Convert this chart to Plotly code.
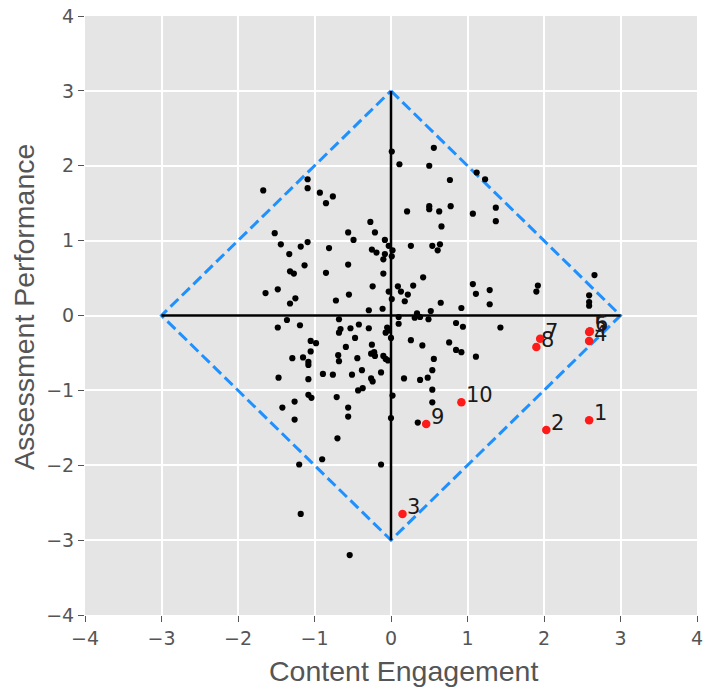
import plotly.graph_objects as go

# Black points (Content Engagement, Assessment Performance)
black_x = [
    -1.67, -1.09, -1.09, -0.93, -0.76, -0.85, -0.27, -1.52, -0.56, -0.21, -0.49, -0.08,
    -1.44, -1.09, -1.18, -0.81, -0.03, -0.25, -0.19, 0.02, -0.08, 0.01, -1.33, -0.10,
    -1.13, -0.56, -1.32, -1.27, -0.85, -0.10, -0.24, -1.64, -1.48, -0.55, -0.03, -1.25,
    -1.32, -0.72, 0.01, -0.29, -0.11, -0.68, -1.36,
    0.01, 0.56, 0.11, 0.50, 1.12, 1.23, 0.77, 0.21, 0.50, 0.50, 0.63, 0.78, 1.07, 1.37,
    1.37, 0.66, 0.26, 0.54, 0.64, 0.61, 0.42, 0.09, 0.29, 0.13, 0.22, 0.18, 0.65, 0.92,
    0.52, 1.07, 1.11, 1.29, 1.29, 1.92, 1.90, 2.66, 2.59, 2.59, 2.59, 0.34, 0.10,
    -1.48, -1.19, -0.66, -0.68, -0.53, -0.42, -0.29, -0.05, -0.03, -0.07, -0.47, -1.05,
    -0.98, -0.59, -0.25, -1.05, -0.69, -0.26, -0.22, -0.21, -1.29, -1.15, -1.08, -1.08,
    -0.68, -0.44, -0.10, -0.07, -0.04, -0.38, -0.13, -0.89, -0.76, -0.51, -1.47, -1.08,
    -0.26, -0.24, -0.37, -0.43, -1.08, -1.04, -0.71, -1.26, -1.42, -0.56, -0.56, -1.26,
    -0.70, -0.90, -1.20, -0.13, -1.18, -0.54,
    0.31, 0.38, 0.49, 0.10, 0.85, 0.94, 1.43, 0.00, 0.26, 0.41, 0.76, 0.85, 0.92, 1.11,
    0.56, 0.54, 0.17, 0.38, 0.48, 0.54, 0.02, 0.54, 0.00, 0.35,
]
black_y = [
    1.67, 1.82, 1.70, 1.64, 1.59, 1.50, 1.25, 1.10, 1.11, 1.11, 1.01, 1.01,
    0.95, 0.98, 0.92, 0.90, 0.93, 0.88, 0.84, 0.87, 0.82, 0.79, 0.82, 0.75,
    0.67, 0.68, 0.59, 0.56, 0.57, 0.56, 0.39, 0.30, 0.35, 0.28, 0.32, 0.23,
    0.16, 0.20, 0.22, 0.07, 0.09, -0.05, -0.06,
    2.19, 2.24, 2.02, 2.00, 1.91, 1.82, 1.81, 1.39, 1.46, 1.42, 1.39, 1.46, 1.36, 1.44,
    1.26, 1.19, 0.93, 0.93, 0.95, 0.87, 0.51, 0.39, 0.40, 0.32, 0.28, 0.19, 0.17, 0.10,
    0.06, 0.42, 0.29, 0.34, 0.15, 0.40, 0.32, 0.54, 0.27, 0.18, 0.13, 0.03, -0.02,
    -0.16, -0.13, -0.18, -0.23, -0.17, -0.12, -0.17, -0.16, -0.20, -0.23, -0.30, -0.34,
    -0.37, -0.42, -0.39, -0.48, -0.53, -0.51, -0.49, -0.54, -0.57, -0.56, -0.62, -0.66,
    -0.61, -0.57, -0.54, -0.58, -0.60, -0.73, -0.76, -0.78, -0.79, -0.79, -0.83, -0.85,
    -0.84, -0.88, -0.97, -1.00, -1.06, -1.10, -1.09, -1.15, -1.23, -1.23, -1.35, -1.39,
    -1.64, -1.92, -1.99, -1.99, -2.65, -3.20,
    -0.03, -0.02, -0.05, -0.11, -0.10, -0.15, -0.16, -0.30, -0.33, -0.40, -0.36, -0.46, -0.49, -0.55,
    -0.58, -0.73, -0.84, -0.86, -0.83, -0.99, -1.07, -1.16, -1.37, -1.43,
]

# Highlighted (red) points with labels
red_labels = ["1", "2", "3", "4", "5", "6", "7", "8", "9", "10"]
red_x = [2.59, 2.03, 0.15, 2.59, 2.59, 2.60, 1.95, 1.90, 0.46, 0.92]
red_y = [-1.40, -1.53, -2.65, -0.34, -0.22, -0.21, -0.31, -0.42, -1.45, -1.16]

# Diamond boundary and cross lines
diamond_x = [0, 3, 0, -3, 0]
diamond_y = [3, 0, -3, 0, 3]
hline_x, hline_y = [-3, 3], [0, 0]
vline_x, vline_y = [0, 0], [-3, 3]

tick_vals = [-4, -3, -2, -1, 0, 1, 2, 3, 4]
tick_text = ["\u22124", "\u22123", "\u22122", "\u22121", "0", "1", "2", "3", "4"]

x_title = "Content Engagement"
y_title = "Assessment Performance"

fig = go.Figure()
fig.add_trace(go.Scatter(x=diamond_x, y=diamond_y, mode="lines",
                         line=dict(color="#1E90FF", width=3, dash="11px,5px"),
                         hoverinfo="skip"))
fig.add_trace(go.Scatter(x=hline_x, y=hline_y, mode="lines",
                         line=dict(color="black", width=2.5), hoverinfo="skip"))
fig.add_trace(go.Scatter(x=vline_x, y=vline_y, mode="lines",
                         line=dict(color="black", width=2.5), hoverinfo="skip"))
fig.add_trace(go.Scatter(x=black_x, y=black_y, mode="markers",
                         marker=dict(color="black", size=6.2)))
fig.add_trace(go.Scatter(x=red_x, y=red_y, mode="markers",
                         marker=dict(color="#FF1A1A", size=8.5)))

for lx, ly, lt in zip(red_x, red_y, red_labels):
    fig.add_annotation(x=lx, y=ly, text=lt, showarrow=False,
                       xanchor="left", yanchor="bottom", xshift=3, yshift=-7,
                       font=dict(family="DejaVu Sans", size=21, color="#1a1a1a"))

# Axis titles as annotations (positioned as in the reference)
fig.add_annotation(xref="paper", yref="paper", x=0.521, y=-0.094, text=x_title,
                   showarrow=False, xanchor="center", yanchor="middle",
                   font=dict(family="Liberation Sans", size=28.5, color="#555555"))
fig.add_annotation(xref="paper", yref="paper", x=-0.1, y=0.514, text=y_title,
                   showarrow=False, xanchor="center", yanchor="middle", textangle=-90,
                   font=dict(family="Liberation Sans", size=28.5, color="#555555"))

axis_common = dict(range=[-4, 4], tickvals=tick_vals, ticktext=tick_text,
                   showgrid=True, gridcolor="white", gridwidth=1.5,
                   zeroline=False, ticks="outside", ticklen=6, tickwidth=1.2,
                   tickcolor="#555555", showline=False, automargin=False,
                   tickfont=dict(family="DejaVu Sans", size=19, color="#555555"))

fig.update_layout(
    width=705, height=690,
    margin=dict(l=85, r=8, t=16, b=75),
    plot_bgcolor="#E5E5E5", paper_bgcolor="white",
    showlegend=False,
    xaxis=dict(**axis_common),
    yaxis=dict(**axis_common),
)

fig.write_html("out.html",
               config={"displayModeBar": False},
               post_script="document.body.style.margin='0px';document.body.style.overflow='hidden';")
